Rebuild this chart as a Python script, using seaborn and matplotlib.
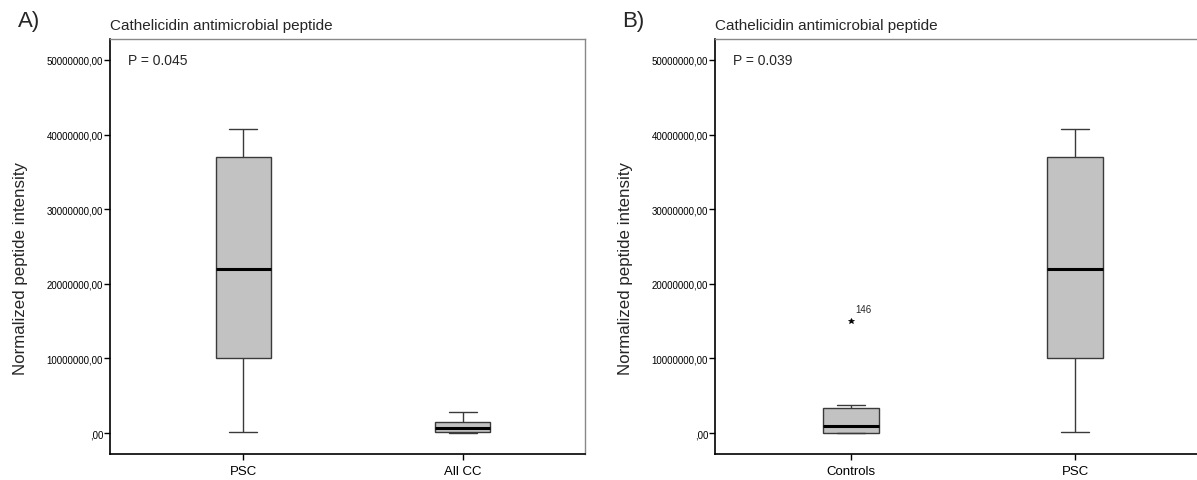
import matplotlib
matplotlib.use("Agg")
import matplotlib.pyplot as plt
import matplotlib.ticker as mticker
import seaborn as sns
import pandas as pd

# ---- data ----
psc_values = [130000, 10050000, 22000000, 37000000, 40750000]
allcc_values = [0, 100000, 700000, 1500000, 2800000]
controls_values = [0, 20000, 50000, 500000, 1000000, 2000000, 3350000, 3800000, 15050000]
outlier_label = "146"

panel_a_groups = ["PSC", "All CC"]
panel_b_groups = ["Controls", "PSC"]
p_values = ["P = 0.045", "P = 0.039"]
panel_letters = ["A)", "B)"]
title_text = "Cathelicidin antimicrobial peptide"
y_label = "Normalized peptide intensity"
y_ticks = [0, 10000000, 20000000, 30000000, 40000000, 50000000]

sns.set_theme(style="white")
plt.rcParams["font.family"] = ["Liberation Sans", "DejaVu Sans"]

df_a = pd.DataFrame({
    "group": ["PSC"] * len(psc_values) + ["All CC"] * len(allcc_values),
    "value": psc_values + allcc_values,
})
df_b = pd.DataFrame({
    "group": ["Controls"] * len(controls_values) + ["PSC"] * len(psc_values),
    "value": controls_values + psc_values,
})

fig = plt.figure(figsize=(11.97, 4.81), dpi=100)
ax_a = fig.add_axes([110 / 1197, 1 - 455 / 481, 475 / 1197, 415 / 481])
ax_b = fig.add_axes([715 / 1197, 1 - 455 / 481, 485 / 1197, 415 / 481])

def fmt(v, pos):
    if v == 0:
        return ",00"
    return f"{int(v)},00"

box_kws = dict(
    x="group", y="value", width=0.25, color="#C2C2C2", saturation=1,
    linecolor="#3a3a3a", linewidth=1.0,
    medianprops=dict(color="black", linewidth=2.2),
    flierprops=dict(marker="*", markersize=4, markerfacecolor="black",
                    markeredgecolor="black", markeredgewidth=0.5),
)

for ax, df, order, pv, lab_x in [
    (ax_a, df_a, panel_a_groups, p_values[0], -0.173),
    (ax_b, df_b, panel_b_groups, p_values[1], -0.169),
]:
    sns.boxplot(data=df, order=order, ax=ax, whis=1.5, **box_kws)
    ax.set_xlim(-0.605, 1.555)
    ax.set_ylim(-2800000, 52800000)
    ax.set_yticks(y_ticks)
    ax.yaxis.set_major_formatter(mticker.FuncFormatter(fmt))
    ax.tick_params(axis="y", labelsize=7, length=4, width=1, direction="out",
                   left=True, pad=1, colors="black")
    ax.tick_params(axis="x", labelsize=9.5, length=4, width=1, direction="out",
                   bottom=True, pad=4, colors="black")
    ax.set_xlabel("")
    ax.set_ylabel(y_label, fontsize=12.2)
    ax.yaxis.set_label_coords(lab_x, 0.45)
    for side in ["left", "bottom"]:
        ax.spines[side].set_color("black")
        ax.spines[side].set_linewidth(1.2)
    for side in ["top", "right"]:
        ax.spines[side].set_color("#888888")
        ax.spines[side].set_linewidth(1.0)
    ax.set_title(title_text, loc="left", fontsize=11, pad=7, x=0.0)
    ax.text(0.038, 50000000, pv, transform=ax.get_yaxis_transform(),
            fontsize=10, va="center", ha="left")

fig.text(18 / 1197, 1 - 22 / 481, panel_letters[0], fontsize=16, va="center", ha="left")
fig.text(622 / 1197, 1 - 22 / 481, panel_letters[1], fontsize=16, va="center", ha="left")

# label for outlier in panel B (Controls group)
ax_b.annotate(outlier_label, xy=(0, controls_values[-1]), xytext=(3, 6),
              textcoords="offset points", fontsize=7)

fig.savefig("out.png", dpi=100)
